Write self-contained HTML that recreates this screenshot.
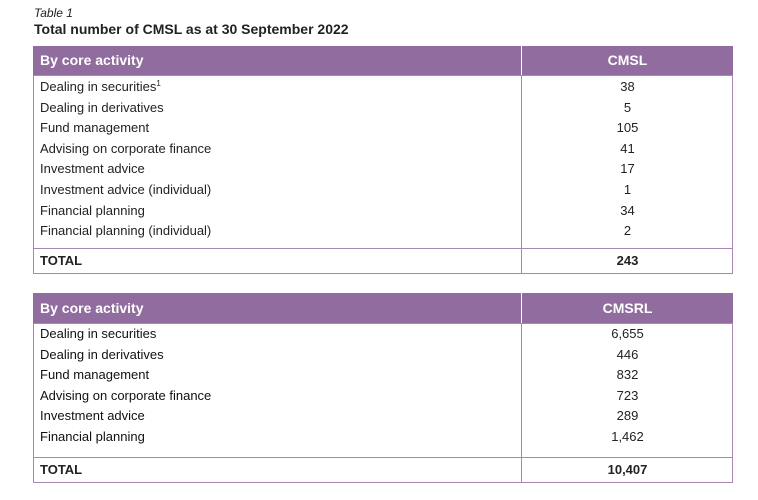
<!DOCTYPE html>
<html><head><style>
body{margin:0;width:758px;height:500px;background:#fff;font-family:"Liberation Sans",sans-serif;position:relative;overflow:hidden;color:#222}
.a{position:absolute}
.hd{position:absolute;left:33px;width:700px;background:#916c9f;color:#fff;font-weight:bold;font-size:14px}
.box{position:absolute;left:33px;width:698px;border:1px solid #a886b5}
.vl{position:absolute;left:521px;width:1px;background:#a886b5}
.t{position:absolute;left:40px;font-size:13px;line-height:20px}
.n{position:absolute;left:522px;width:211px;text-align:center;font-size:13px;line-height:20px}
.b{font-weight:bold}
sup{font-size:8px;line-height:0;vertical-align:5px}
</style></head><body>
<div class="a" style="left:34px;top:6px;font-size:12px;font-style:italic">Table 1</div>
<div class="a" style="left:34px;top:21px;font-size:14px;font-weight:bold">Total number of CMSL as at 30 September 2022</div>

<div class="hd" style="top:46px;height:29px"><span class="a" style="left:7px;top:6px">By core activity</span><span class="a" style="left:489px;width:211px;text-align:center;top:6px">CMSL</span><div class="a" style="left:488px;top:0;width:1px;height:29px;background:#fff"></div></div>
<div class="box" style="top:75px;height:172px"></div>
<div class="box" style="top:248px;height:24px"></div>
<div class="vl" style="top:75px;height:198px"></div>
<div class="t" style="top:77px">Dealing in securities<sup>1</sup></div><div class="n" style="top:77px">38</div>
<div class="t" style="top:98px">Dealing in derivatives</div><div class="n" style="top:98px">5</div>
<div class="t" style="top:118px">Fund management</div><div class="n" style="top:118px">105</div>
<div class="t" style="top:139px">Advising on corporate finance</div><div class="n" style="top:139px">41</div>
<div class="t" style="top:159px">Investment advice</div><div class="n" style="top:159px">17</div>
<div class="t" style="top:180px">Investment advice (individual)</div><div class="n" style="top:180px">1</div>
<div class="t" style="top:201px">Financial planning</div><div class="n" style="top:201px">34</div>
<div class="t" style="top:221px">Financial planning (individual)</div><div class="n" style="top:221px">2</div>
<div class="t b" style="top:251px">TOTAL</div><div class="n b" style="top:251px">243</div>

<div class="hd" style="top:293px;height:30px"><span class="a" style="left:7px;top:7px">By core activity</span><span class="a" style="left:489px;width:211px;text-align:center;top:7px">CMSRL</span><div class="a" style="left:488px;top:0;width:1px;height:30px;background:#fff"></div></div>
<div class="box" style="top:323px;height:133px"></div>
<div class="box" style="top:457px;height:24px"></div>
<div class="vl" style="top:323px;height:159px"></div>
<div class="t" style="top:324px;color:#111">Dealing in securities</div><div class="n" style="top:324px">6,655</div>
<div class="t" style="top:345px;color:#111">Dealing in derivatives</div><div class="n" style="top:345px">446</div>
<div class="t" style="top:365px;color:#111">Fund management</div><div class="n" style="top:365px">832</div>
<div class="t" style="top:386px;color:#111">Advising on corporate finance</div><div class="n" style="top:386px">723</div>
<div class="t" style="top:406px;color:#111">Investment advice</div><div class="n" style="top:406px">289</div>
<div class="t" style="top:427px;color:#111">Financial planning</div><div class="n" style="top:427px">1,462</div>
<div class="t b" style="top:460px">TOTAL</div><div class="n b" style="top:460px">10,407</div>
</body></html>
